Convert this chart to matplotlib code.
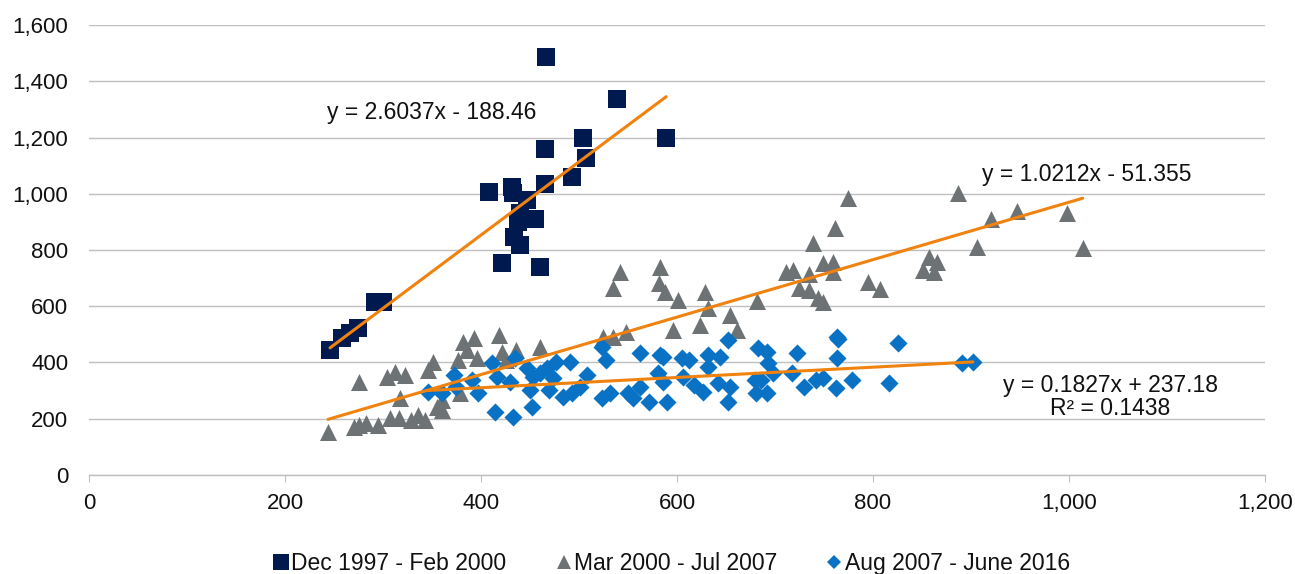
import matplotlib
matplotlib.use("Agg")
import matplotlib.pyplot as plt
import numpy as np
from matplotlib.ticker import FuncFormatter
from matplotlib.lines import Line2D

plt.rcParams['font.family'] = ['Liberation Sans', 'DejaVu Sans']

# ---- data ----
labels = ["Dec 1997 - Feb 2000", "Mar 2000 - Jul 2007", "Aug 2007 - June 2016"]

s1_x = [246, 258, 266, 275, 292, 300, 408, 421, 432, 433, 434, 438, 440, 440, 447,
        455, 460, 465, 465, 466, 493, 504, 507, 539, 589]
s1_y = [444, 486, 504, 521, 616, 616, 1007, 753, 1025, 1001, 847, 901, 930, 818, 978,
        909, 738, 1158, 1035, 1485, 1061, 1200, 1126, 1336, 1200]

s2_x = [244, 270, 276, 283, 295, 276, 304, 312, 322, 317, 307, 316, 329, 336, 343,
        346, 351, 355, 360, 360, 377, 382, 386, 393, 396, 379, 418, 421, 426, 436,
        460, 525, 535, 548, 542, 535, 583, 582, 588, 601, 596, 624, 629, 632, 654,
        661, 682, 711, 718, 725, 735, 735, 739, 744, 749, 749, 759, 759, 761, 775,
        795, 807, 851, 857, 862, 865, 887, 906, 920, 947, 998, 1014]
s2_y = [154, 172, 178, 184, 178, 332, 350, 367, 356, 272, 201, 201, 196, 213, 196,
        373, 403, 243, 267, 231, 409, 474, 444, 486, 415, 290, 498, 438, 409, 444,
        456, 492, 492, 510, 723, 664, 741, 682, 652, 622, 516, 533, 652, 593, 569,
        516, 620, 723, 729, 666, 715, 658, 824, 628, 616, 753, 758, 723, 877, 984,
        687, 660, 729, 776, 723, 758, 1001, 812, 912, 940, 933, 806]

s3_x = [346, 360, 372, 375, 391, 397, 411, 416, 430, 435, 414, 433, 452, 447, 453,
        460, 467, 474, 450, 469, 477, 491, 484, 493, 501, 508, 523, 528, 523, 532,
        550, 555, 562, 562, 571, 583, 586, 581, 586, 590, 605, 612, 606, 617, 627,
        632, 632, 644, 642, 654, 652, 652, 683, 692, 693, 698, 680, 686, 681, 692,
        717, 722, 730, 742, 749, 763, 764, 763, 762, 779, 816, 826, 891, 902]
s3_y = [296, 290, 356, 314, 338, 290, 397, 350, 332, 415, 225, 207, 243, 379, 350,
        362, 379, 344, 302, 302, 403, 403, 278, 290, 314, 356, 456, 409, 273, 290,
        290, 273, 314, 433, 261, 427, 421, 362, 332, 261, 415, 409, 350, 320, 296,
        427, 385, 421, 326, 314, 261, 480, 450, 438, 397, 362, 338, 338, 290, 290,
        362, 433, 314, 338, 344, 492, 485, 415, 308, 338, 328, 468, 397, 403]

# trendline coefficients (slope, intercept) as shown on the chart
trend_coef = [(2.6037, -188.46), (1.0212, -51.355), (0.1827, 237.18)]
trend_text = ["y = 2.6037x - 188.46", "y = 1.0212x - 51.355",
              "y = 0.1827x + 237.18\nR² = 0.1438"]

# ---- plot ----
fig = plt.figure(figsize=(12.95, 5.74), dpi=100)
ax = fig.add_axes([0.0687, 0.1725, 0.9081, 0.7839])

c1, c2, c3 = "#001A4F", "#6D7375", "#0A72C4"
orange = "#F0820F"
txtc = "#111111"
fs = 16.5

ax.scatter(s1_x, s1_y, marker='s', s=185, color=c1, linewidths=0, zorder=3)
ax.scatter(s2_x, s2_y, marker='^', s=150, color=c2, linewidths=0, zorder=4)
ax.scatter(s3_x, s3_y, marker='D', s=85, color=c3, linewidths=0, zorder=5)

for xs, (m, b) in zip([s1_x, s2_x, s3_x], trend_coef):
    xx = np.array([min(xs), max(xs)])
    ax.plot(xx, m * xx + b, color=orange, lw=2.2, zorder=6, solid_capstyle='round')

ax.text(350, 1290, trend_text[0], fontsize=fs, ha='center', va='center', color=txtc)
ax.text(1018, 1067, trend_text[1], fontsize=fs, ha='center', va='center', color=txtc)
ax.text(1042, 279, trend_text[2], fontsize=fs, ha='center', va='center', color=txtc,
        multialignment='center', linespacing=1.0)

ax.set_xlim(0, 1200)
ax.set_ylim(0, 1600)
ax.set_xticks(np.arange(0, 1201, 200))
ax.set_yticks(np.arange(0, 1601, 200))
fmt = FuncFormatter(lambda v, p: f"{int(v):,}")
ax.xaxis.set_major_formatter(fmt)
ax.yaxis.set_major_formatter(fmt)

ax.grid(axis='y', color='#BFBFBF', lw=1.0, zorder=0)
ax.set_axisbelow(True)
for sp in ['top', 'right', 'left']:
    ax.spines[sp].set_visible(False)
ax.spines['bottom'].set_color('#BFBFBF')
ax.spines['bottom'].set_linewidth(1.0)
ax.tick_params(axis='y', length=0, labelsize=16, labelcolor=txtc, pad=15)
ax.tick_params(axis='x', length=5, color='#BFBFBF', labelsize=16, labelcolor=txtc, pad=8)

handles = [Line2D([], [], ls='none', marker='s', ms=11, color=c1, mew=0),
           Line2D([], [], ls='none', marker='^', ms=9.5, color=c2, mew=0),
           Line2D([], [], ls='none', marker='D', ms=7, color=c3, mew=0)]
leg = fig.legend(handles, labels, loc='lower center', bbox_to_anchor=(0.518, -0.038), ncol=3,
                 frameon=False, fontsize=fs, handletextpad=0.05, columnspacing=2.1,
                 handlelength=0.8, labelcolor=txtc)

fig.savefig("out.png", dpi=100)
